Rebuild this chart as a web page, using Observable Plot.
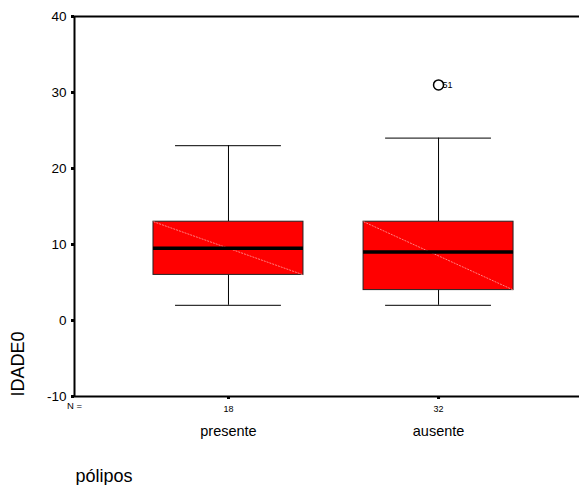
<!DOCTYPE html>
<html>
<head>
<meta charset="utf-8">
<script src="https://cdn.jsdelivr.net/npm/d3@7"></script>
<script src="https://cdn.jsdelivr.net/npm/@observablehq/plot@0.6"></script>
<style>
  html, body { margin: 0; padding: 0; background: #fff; }
  #chart svg { display: block; }
</style>
</head>
<body>
<div id="chart"></div>
<script>
// ---- data ----
const categories = ["presente", "ausente"];
const nCounts = [18, 32];
const lowWhisker = [2, 2];
const q1 = [6, 4];
const median = [9.5, 9];
const q3 = [13, 13];
const highWhisker = [23, 24];
const outlierCategory = ["ausente"];
const outlierValue = [31];
const outlierLabel = ["51"];
const yTicks = [-10, 0, 10, 20, 30, 40];
const yLabel = "IDADE0";
const xLabel = "pólipos";
const nLabel = "N =";

// ---- build table ----
const rows = categories.map((c, i) => ({
  i, cat: c, n: nCounts[i], lo: lowWhisker[i], q1: q1[i], med: median[i], q3: q3[i], hi: highWhisker[i]
}));
const outliers = outlierCategory.map((c, k) => ({
  i: categories.indexOf(c), value: outlierValue[k], label: outlierLabel[k]
}));

const boxW = 0.357, capW = 0.252;
const xDomain = [-0.733, 1.671];
const font = "'Liberation Sans', Arial, Helvetica, sans-serif";

const chart = Plot.plot({
  width: 579,
  height: 485,
  marginLeft: 74,
  marginRight: 0,
  marginTop: 16,
  marginBottom: 89,
  style: { fontFamily: font, background: "#fff", color: "#000" },
  x: { type: "linear", domain: xDomain, axis: null },
  y: { domain: [-10, 40], axis: null },
  marks: [
    // y axis
    Plot.axisY({ ticks: yTicks, tickSize: 3, tickPadding: 5, strokeWidth: 3, fontSize: 13.5, label: null, tickFormat: d => String(d) }),
    // N tick labels
    Plot.axisX({ ticks: rows.map(d => d.i), tickSize: 3, tickPadding: 6, strokeWidth: 3, fontSize: 9, label: null,
      tickFormat: (d) => String(nCounts[d]) }),
    // category labels
    Plot.axisX({ ticks: rows.map(d => d.i), tickSize: 0, tickPadding: 29, fontSize: 14.5, label: null,
      tickFormat: (d) => categories[d] }),
    // frame lines
    Plot.ruleY([40, -10], { stroke: "#000", strokeWidth: 2 }),
    Plot.ruleX([xDomain[0]], { stroke: "#000", strokeWidth: 2 }),
    // whiskers
    Plot.ruleX(rows, { x: "i", y1: "lo", y2: "q1", stroke: "#000", strokeWidth: 1 }),
    Plot.ruleX(rows, { x: "i", y1: "q3", y2: "hi", stroke: "#000", strokeWidth: 1 }),
    Plot.ruleY(rows, { y: "lo", x1: d => d.i - capW, x2: d => d.i + capW, stroke: "#000", strokeWidth: 1 }),
    Plot.ruleY(rows, { y: "hi", x1: d => d.i - capW, x2: d => d.i + capW, stroke: "#000", strokeWidth: 1 }),
    // boxes
    Plot.rect(rows, { x1: d => d.i - boxW, x2: d => d.i + boxW, y1: "q1", y2: "q3", fill: "#ff0000", stroke: "#222", strokeWidth: 1 }),
    Plot.link(rows, { x1: d => d.i - boxW, y1: "q3", x2: d => d.i + boxW, y2: "q1", stroke: "#ff8080", strokeWidth: 1, strokeDasharray: "2,1" }),
    Plot.ruleY(rows, { y: "med", x1: d => d.i - boxW, x2: d => d.i + boxW, stroke: "#000", strokeWidth: 3.5 }),
    // outliers
    Plot.dot(outliers, { x: "i", y: "value", r: 5, stroke: "#000", strokeWidth: 1.5, fill: "none" }),
    Plot.text(outliers, { x: "i", y: "value", text: "label", dx: 4, textAnchor: "start", fontSize: 9, fill: "black" }),
    // labels
    Plot.text([nLabel], { frameAnchor: "bottom-left", dy: 12, text: d => d, fontSize: 9.5, textAnchor: "middle", fill: "black" }),
    Plot.text([yLabel], { frameAnchor: "bottom-left", dx: -51, rotate: -90, text: d => d, fontSize: 18, textAnchor: "start", fill: "black" }),
    Plot.text([xLabel], { frameAnchor: "bottom-left", dx: 1, dy: 85, text: d => d, fontSize: 18, textAnchor: "start", fill: "black" })
  ]
});
document.getElementById("chart").appendChild(chart);
</script>
</body>
</html>
